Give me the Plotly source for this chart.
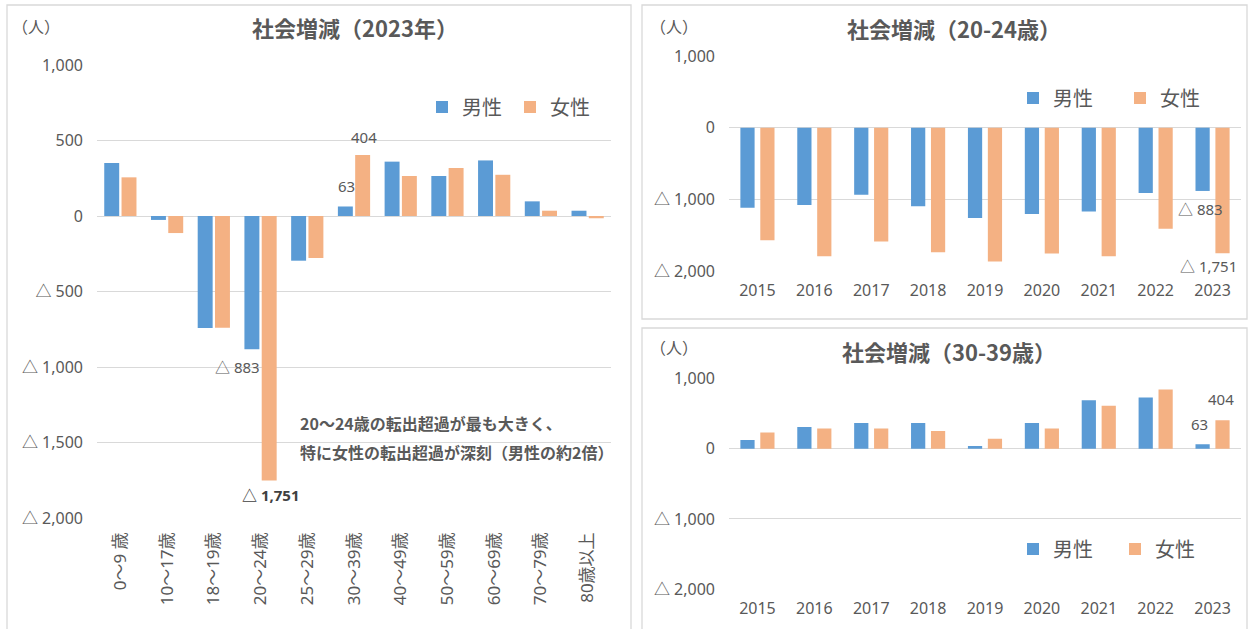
import plotly.graph_objects as go

# ---------------- data ----------------
ages = ["0～9 歳", "10～17歳", "18～19歳", "20～24歳", "25～29歳", "30～39歳",
        "40～49歳", "50～59歳", "60～69歳", "70～79歳", "80歳以上"]
male_2023 = [351, -26, -742, -883, -296, 63, 360, 265, 368, 97, 35]
female_2023 = [256, -113, -740, -1751, -278, 404, 265, 318, 273, 35, -15]

years = ["2015", "2016", "2017", "2018", "2019", "2020", "2021", "2022", "2023"]
male_20_24 = [-1119, -1078, -935, -1096, -1262, -1203, -1170, -912, -883]
female_20_24 = [-1571, -1793, -1589, -1737, -1866, -1756, -1793, -1410, -1751]
male_30_39 = [121, 308, 366, 366, 39, 366, 687, 726, 63]
female_30_39 = [231, 288, 288, 250, 140, 288, 611, 841, 404]

left_ticks = [1000, 500, 0, -500, -1000, -1500, -2000]
right_ticks = [1000, 0, -1000, -2000]

titles = ["社会増減（2023年）", "社会増減（20-24歳）", "社会増減（30-39歳）"]
unit = "（人）"
names = ["男性", "女性"]
note_lines = ["20～24歳の転出超過が最も大きく、", "特に女性の転出超過が深刻（男性の約2倍）"]

# ---------------- style ----------------
W, H = 1248, 629
BLUE = "#5B9BD5"
ORANGE = "#F4B183"
GRID = "#D9D9D9"
TXT = "#595959"
CJK = "Noto Sans CJK JP"
NUM = "Noto Sans, Noto Sans CJK JP"


def px(x):
    return x / W


def py(y):
    return 1 - y / H


def fmt(v):
    return ("△ " + f"{-v:,}") if v < 0 else f"{v:,}"


fig = go.Figure()

specs = [
    (ages, male_2023, female_2023, "x", "y", "legend", 0.32, -0.345, 0.025),
    (years, male_20_24, female_20_24, "x2", "y2", "legend2", 0.25, -0.30, 0.05),
    (years, male_30_39, female_30_39, "x3", "y3", "legend3", 0.25, -0.30, 0.05),
]
for cats, m, f, xa, ya, lg, w, om, of in specs:
    fig.add_trace(go.Bar(x=cats, y=m, name=names[0], marker_color=BLUE,
                         marker_line_width=0, xaxis=xa, yaxis=ya, legend=lg,
                         width=w, offset=om))
    fig.add_trace(go.Bar(x=cats, y=f, name=names[1], marker_color=ORANGE,
                         marker_line_width=0, xaxis=xa, yaxis=ya, legend=lg,
                         width=w, offset=of))

ytick_font = dict(family=NUM, size=16, color=TXT)
xaxis_common = dict(type="category", showgrid=False, zeroline=False, showline=False,
                    ticks="", fixedrange=True, automargin=False)
yaxis_common = dict(showgrid=True, gridcolor=GRID, gridwidth=1, zeroline=True,
                    zerolinecolor=GRID, zerolinewidth=1, showline=False, ticks="",
                    range=[-2000, 1000], tickfont=ytick_font, ticklabelstandoff=13,
                    fixedrange=True, automargin=False)

fig.update_layout(
    autosize=True,
    margin=dict(l=0, r=0, t=0, b=0, pad=0, autoexpand=False),
    paper_bgcolor="white", plot_bgcolor="white",
    barmode="overlay",
    font=dict(family=CJK, color=TXT),
    xaxis=dict(domain=[px(97), px(611)], anchor="y", tickangle=-90,
               range=[-0.5, len(ages) - 0.5],
               tickfont=dict(family=NUM, size=17, color=TXT), ticklabelstandoff=10,
               **xaxis_common),
    yaxis=dict(domain=[py(518), py(65)], anchor="x",
               tickvals=left_ticks, ticktext=[fmt(v) for v in left_ticks],
               **yaxis_common),
    xaxis2=dict(domain=[px(729), px(1241)], anchor="y2",
                range=[-0.5, len(years) - 0.5],
                tickfont=dict(family=NUM, size=16, color=TXT), ticklabelstandoff=8,
                **xaxis_common),
    yaxis2=dict(domain=[py(271), py(56)], anchor="x2",
                tickvals=right_ticks, ticktext=[fmt(v) for v in right_ticks],
                **yaxis_common),
    xaxis3=dict(domain=[px(729), px(1241)], anchor="y3",
                range=[-0.5, len(years) - 0.5],
                tickfont=dict(family=NUM, size=16, color=TXT), ticklabelstandoff=8,
                **xaxis_common),
    yaxis3=dict(domain=[py(589.3), py(378.3)], anchor="x3",
                tickvals=right_ticks, ticktext=[fmt(v) for v in right_ticks],
                **yaxis_common),
    showlegend=True,
)

leg_common = dict(orientation="h", yanchor="middle", xanchor="left",
                  font=dict(family=CJK, size=20, color=TXT),
                  bgcolor="rgba(0,0,0,0)", entrywidthmode="pixels",
                  itemclick=False, itemdoubleclick=False, traceorder="normal")
fig.update_layout(
    legend=dict(x=px(422), y=py(107), entrywidth=43, **leg_common),
    legend2=dict(x=px(1013), y=py(98), entrywidth=62, **leg_common),
    legend3=dict(x=px(1013), y=py(549), entrywidth=57, **leg_common),
)

# panel borders
for (x0, y0, x1, y1) in [(7, 5, 631, 640), (642, 5, 1247, 319), (642, 328, 1247, 640)]:
    fig.add_shape(type="rect", xref="paper", yref="paper",
                  x0=px(x0), x1=px(x1), y0=py(y1), y1=py(y0),
                  line=dict(color=GRID, width=1.3), fillcolor="rgba(0,0,0,0)", layer="below")

ann = []
for t, (cx, cy) in zip(titles, [(355, 27), (954, 28), (949, 351)]):
    ann.append(dict(text=f"<b>{t}</b>", x=px(cx), y=py(cy), xref="paper", yref="paper",
                    showarrow=False, xanchor="center", yanchor="middle",
                    font=dict(family=CJK, size=22, color=TXT)))
for (cx, cy) in [(36, 26), (674, 26), (674, 347)]:
    ann.append(dict(text=unit, x=px(cx), y=py(cy), xref="paper", yref="paper",
                    showarrow=False, xanchor="center", yanchor="middle",
                    font=dict(family=CJK, size=16, color=TXT)))
for line, cy in zip(note_lines, [423, 452]):
    ann.append(dict(text=f"<b>{line}</b>", x=px(298), y=py(cy), xref="paper", yref="paper",
                    showarrow=False, xanchor="left", yanchor="middle",
                    font=dict(family=CJK, size=16, color=TXT)))

lab_font = dict(family=NUM, size=15, color=TXT)
i30 = ages.index("30～39歳")
i20 = ages.index("20～24歳")
last = len(years) - 1
ann.append(dict(text=fmt(female_2023[i30]), x=i30, y=female_2023[i30], xref="x", yref="y",
                showarrow=False, xanchor="center", yanchor="bottom", xshift=10, yshift=6,
                font=lab_font))
ann.append(dict(text=fmt(male_2023[i30]), x=i30, y=male_2023[i30], xref="x", yref="y",
                showarrow=False, xanchor="center", yanchor="bottom", xshift=-8, yshift=8,
                font=lab_font))
ann.append(dict(text=fmt(male_2023[i20]), x=i20, y=male_2023[i20], xref="x", yref="y",
                showarrow=False, xanchor="center", yanchor="top", xshift=-23, yshift=-6,
                font=lab_font))
ann.append(dict(text=f"<b>{fmt(female_2023[i20])}</b>", x=i20, y=female_2023[i20],
                xref="x", yref="y", showarrow=False, xanchor="center", yanchor="top",
                xshift=10, yshift=-3, font=dict(family=NUM, size=15, color="#404040")))
ann.append(dict(text=fmt(male_20_24[last]), x=last, y=male_20_24[last], xref="x2", yref="y2",
                showarrow=False, xanchor="center", yanchor="top", xshift=-12, yshift=-6,
                font=lab_font))
ann.append(dict(text=fmt(female_20_24[last]), x=last, y=female_20_24[last], xref="x2",
                yref="y2", showarrow=False, xanchor="center", yanchor="top", xshift=-4,
                yshift=-1, font=lab_font))
ann.append(dict(text=fmt(female_30_39[last]), x=last, y=female_30_39[last], xref="x3",
                yref="y3", showarrow=False, xanchor="center", yanchor="bottom", xshift=8,
                yshift=9, font=lab_font))
ann.append(dict(text=fmt(male_30_39[last]), x=last, y=male_30_39[last], xref="x3", yref="y3",
                showarrow=False, xanchor="center", yanchor="bottom", xshift=-13, yshift=8,
                font=lab_font))

fig.update_layout(annotations=ann)

fig.write_html(
    "out.html",
    config={"displayModeBar": False, "responsive": True},
    default_width="100vw", default_height="100vh",
    post_script=("document.documentElement.style.margin='0';"
                 "document.body.style.margin='0';document.body.style.padding='0';"
                 "document.body.style.overflow='hidden';"
                 "Plotly.Plots.resize(document.getElementById('{plot_id}'));"),
)
